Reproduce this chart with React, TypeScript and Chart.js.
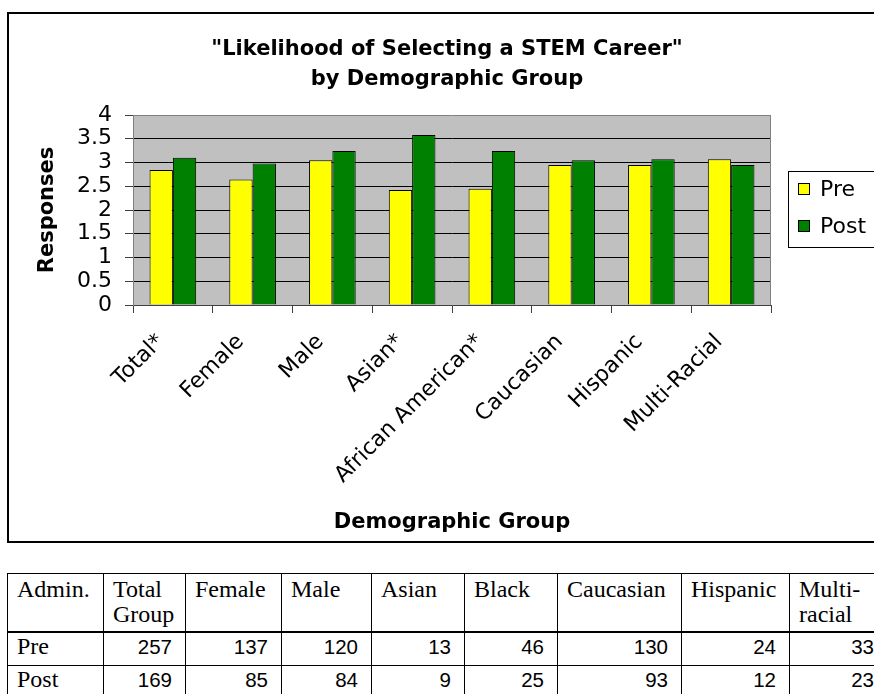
import React, { useEffect, useRef } from "react";
import { Chart, registerables } from "chart.js";

Chart.register(...registerables);

const categories = ["Total*", "Female", "Male", "Asian*", "African American*", "Caucasian", "Hispanic", "Multi-Racial"];
const preValues = [2.84, 2.64, 3.05, 2.42, 2.45, 2.95, 2.95, 3.07];
const postValues = [3.1, 2.98, 3.24, 3.58, 3.24, 3.05, 3.07, 2.95];
const seriesLabels = ["Pre", "Post"];
const titleLines = ['"Likelihood of Selecting a STEM Career"', "by Demographic Group"];
const yAxisTitle = "Responses";
const xAxisTitle = "Demographic Group";
const yMin = 0;
const yMax = 4;
const yStep = 0.5;

const tableHeaders = [["Admin."], ["Total", "Group"], ["Female"], ["Male"], ["Asian"], ["Black"], ["Caucasian"], ["Hispanic"], ["Multi-", "racial"]];
const tableRowLabels = ["Pre", "Post"];
const preCounts = [257, 137, 120, 13, 46, 130, 24, 33];
const postCounts = [169, 85, 84, 9, 25, 93, 12, 23];

const CHART_FONT = '"DejaVu Sans", Verdana, Arial, sans-serif';
const NUM_FONT = 'Arial, "Liberation Sans", Helvetica, sans-serif';
const SERIF = '"Liberation Serif", "Times New Roman", serif';

const plotBgPlugin = {
  id: "plotBg",
  beforeDraw(chart: any) {
    const { ctx, chartArea } = chart;
    ctx.save();
    ctx.fillStyle = "#c0c0c0";
    ctx.fillRect(chartArea.left, chartArea.top, chartArea.right - chartArea.left, chartArea.bottom - chartArea.top);
    ctx.restore();
  },
  afterDraw(chart: any) {
    const { ctx, chartArea } = chart;
    ctx.save();
    ctx.strokeStyle = "#808080";
    ctx.lineWidth = 1;
    ctx.beginPath();
    ctx.moveTo(Math.round(chartArea.right) - 0.5, chartArea.top);
    ctx.lineTo(Math.round(chartArea.right) - 0.5, chartArea.bottom);
    ctx.stroke();
    ctx.restore();
  },
};

const boxLegendPlugin = {
  id: "boxLegend",
  afterDraw(chart: any) {
    const { ctx, chartArea } = chart;
    const x0 = Math.round(chartArea.right + 17);
    const h = 76;
    const w = 100;
    const cy = (chartArea.top + chartArea.bottom) / 2;
    const y0 = Math.round(cy - 39);
    ctx.save();
    ctx.strokeStyle = "#000";
    ctx.lineWidth = 1;
    ctx.strokeRect(x0 + 0.5, y0 + 0.5, w, h);
    chart.data.datasets.forEach((ds: any, i: number) => {
      const iy = y0 + 18 + i * 37;
      ctx.fillStyle = ds.backgroundColor;
      ctx.fillRect(x0 + 10, iy - 6, 12, 12);
      ctx.strokeStyle = "#000";
      ctx.strokeRect(x0 + 10.5, iy - 5.5, 11, 11);
      ctx.fillStyle = "#000";
      ctx.font = `22px ${CHART_FONT}`;
      ctx.textBaseline = "middle";
      ctx.textAlign = "left";
      ctx.fillText(ds.label, x0 + 32, iy + 1);
    });
    ctx.restore();
  },
};

export default function App() {
  const ref = useRef<HTMLCanvasElement>(null);

  useEffect(() => {
    const chart = new Chart(ref.current as HTMLCanvasElement, {
      type: "bar",
      data: {
        labels: categories,
        datasets: [
          {
            label: seriesLabels[0],
            data: preValues,
            backgroundColor: "#ffff00",
            borderColor: "#000000",
            borderWidth: 1,
            categoryPercentage: 0.585,
            barPercentage: 1,
          },
          {
            label: seriesLabels[1],
            data: postValues,
            backgroundColor: "#008000",
            borderColor: "#000000",
            borderWidth: 1,
            categoryPercentage: 0.585,
            barPercentage: 1,
          },
        ],
      },
      options: {
        responsive: false,
        animation: false,
        devicePixelRatio: 1,
        layout: { padding: 0 },
        plugins: {
          legend: { display: false },
          tooltip: { enabled: false },
          title: {
            display: true,
            text: titleLines,
            color: "#000",
            font: { family: CHART_FONT, size: 21, weight: "bold", lineHeight: 30 / 21 },
            padding: { top: 21, bottom: 20 },
          },
        },
        scales: {
          x: {
            grid: {
              offset: true,
              drawOnChartArea: false,
              drawTicks: true,
              tickLength: 8,
              color: "#404040",
              tickColor: "#404040",
            },
            border: { display: true, color: "#404040", width: 1 },
            ticks: {
              color: "#000",
              font: { family: CHART_FONT, size: 22 },
              minRotation: 45,
              maxRotation: 45,
              autoSkip: false,
              padding: 16,
              labelOffset: -12,
            },
            title: {
              display: true,
              text: xAxisTitle,
              color: "#000",
              font: { family: CHART_FONT, size: 21, weight: "bold", lineHeight: 1.2 },
              padding: { top: 0, bottom: 6 },
            },
            afterFit: (s: any) => {
              s.height = 236;
            },
          },
          y: {
            min: yMin,
            max: yMax,
            ticks: {
              stepSize: yStep,
              autoSkip: false,
              color: "#000",
              font: { family: CHART_FONT, size: 22, lineHeight: 1 },
              padding: 13,
              callback: (v: any) => String(Number(v)),
            },
            grid: {
              color: (c: any) => (c.tick && (c.tick.value === yMax || c.tick.value === yMin) ? "#808080" : "#000000"),
              tickColor: "#404040",
              tickLength: 8,
              lineWidth: 1,
            },
            border: { display: true, color: "#808080", width: 1 },
            title: {
              display: true,
              text: yAxisTitle,
              color: "#000",
              font: { family: CHART_FONT, size: 21, weight: "bold", lineHeight: 1.2 },
              padding: { top: 26, bottom: 0 },
            },
            afterFit: (s: any) => {
              s.width = 124;
            },
          },
          legendSpace: {
            type: "linear",
            position: "right",
            display: true,
            grid: { display: false },
            border: { display: false },
            ticks: { display: false },
            afterFit: (s: any) => {
              s.width = 114;
            },
          },
        },
      } as any,
      plugins: [plotBgPlugin, boxLegendPlugin],
    });
    return () => chart.destroy();
  }, []);

  const colWidths = [96, 82, 96, 90, 93, 93, 124, 108, 98];
  const cellBorder = "1px solid #000";

  const thStyle: React.CSSProperties = {
    fontFamily: SERIF,
    fontWeight: "normal",
    fontSize: 24,
    lineHeight: "25px",
    textAlign: "left",
    verticalAlign: "top",
    padding: "3px 0 0 9px",
    border: cellBorder,
    borderBottom: "2px solid #000",
    height: 54,
    color: "#000",
    overflow: "hidden",
    whiteSpace: "nowrap",
  };
  const labelStyle: React.CSSProperties = {
    fontFamily: SERIF,
    fontSize: 24,
    lineHeight: "25px",
    textAlign: "left",
    verticalAlign: "middle",
    padding: "0 0 5px 9px",
    border: cellBorder,
    height: 27,
    color: "#000",
  };
  const numStyle: React.CSSProperties = {
    fontFamily: NUM_FONT,
    fontSize: 20.5,
    lineHeight: "25px",
    textAlign: "right",
    verticalAlign: "middle",
    padding: "0 13px 5px 0",
    border: cellBorder,
    height: 27,
    color: "#000",
  };

  return (
    <div style={{ position: "absolute", left: 0, top: 0, width: 874, height: 694, overflow: "hidden", background: "#fff" }}>
      <div
        style={{
          position: "absolute",
          left: 7,
          top: 12,
          width: 880,
          height: 531,
          border: "2px solid #000",
          boxSizing: "border-box",
        }}
      />
      <canvas
        ref={ref}
        width={876}
        height={527}
        style={{ position: "absolute", left: 9, top: 14, width: 876, height: 527 }}
      />
      <table
        style={{
          position: "absolute",
          left: 7,
          top: 573,
          borderCollapse: "collapse",
          tableLayout: "fixed",
          width: colWidths.reduce((a, b) => a + b, 0),
        }}
      >
        <colgroup>
          {colWidths.map((w, i) => (
            <col key={i} style={{ width: w }} />
          ))}
        </colgroup>
        <tbody>
          <tr>
            {tableHeaders.map((lines, i) => (
              <th key={i} style={thStyle}>
                {lines.map((l, j) => (
                  <div key={j}>{l}</div>
                ))}
              </th>
            ))}
          </tr>
          {[preCounts, postCounts].map((row, r) => (
            <tr key={r}>
              <td style={labelStyle}>{tableRowLabels[r]}</td>
              {row.map((v, i) => (
                <td key={i} style={numStyle}>
                  {v}
                </td>
              ))}
            </tr>
          ))}
        </tbody>
      </table>
    </div>
  );
}
